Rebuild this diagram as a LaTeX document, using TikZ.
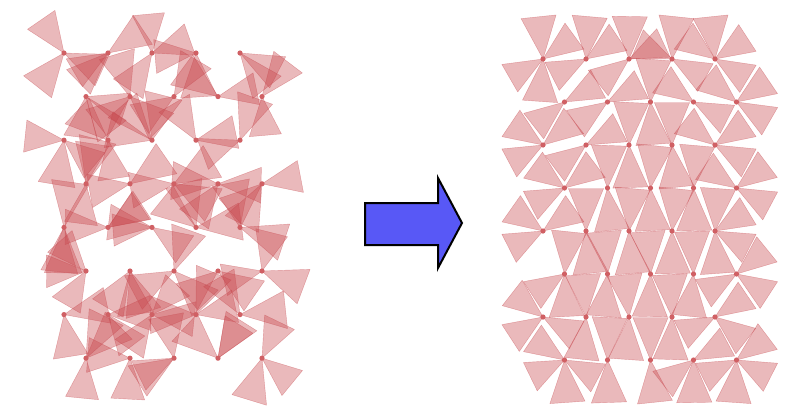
\documentclass[tikz,border=0pt]{standalone}
\definecolor{trired}{RGB}{200,72,78}
\definecolor{dotred}{RGB}{208,96,100}
\definecolor{arrowblue}{RGB}{88,88,246}
\tikzset{
  tri/.style={fill=trired, fill opacity=0.38, draw=trired, draw opacity=0.45, line width=0.4pt, line join=round},
  pt/.style={fill=dotred},
  bigarrow/.style={draw=black, line width=2pt, fill=arrowblue, line join=miter}
}
\begin{document}
\begin{tikzpicture}[x=1pt,y=-1pt]
\useasboundingbox (0,0) rectangle (788,408);
\fill[white] (0,0) rectangle (788,408);
% ---------- left: random orientations ----------
\pgfmathsetseed{4242}
\foreach \r in {0,...,7}{
  \foreach \c in {0,...,4}{
    \pgfmathsetmacro\px{64+44*\c+22*mod(\r,2)}
    \pgfmathsetmacro\py{53+43.6*\r}
    \foreach \k in {1,2,3}{
      \pgfmathsetmacro\aa{360*rnd}
      \pgfmathsetmacro\ss{42+8*rnd}
      \pgfmathtruncatemacro\keep{(\k<3 || rnd<0.65) ? 1 : 0}
      \pgfmathsetmacro\ab{\aa+45}
      \ifnum\keep=1
        \filldraw[tri] (\px,\py) -- +(\aa:\ss) -- +(\ab:\ss) -- cycle;
      \fi
    }
  }
}
\foreach \r in {0,...,7}{
  \foreach \c in {0,...,4}{
    \pgfmathsetmacro\px{64+44*\c+22*mod(\r,2)}
    \pgfmathsetmacro\py{53+43.6*\r}
    \fill[pt] (\px,\py) circle (2.6pt);
  }
}
% ---------- right: relaxed arrangement ----------
\foreach \r/\c/\a in {
0/0/94,0/0/264,0/0/150,0/0/324, 0/1/153,0/1/326,0/1/275, 0/2/142,0/2/335,0/2/271, 0/3/29,0/3/203,0/3/276, 0/4/31,0/4/216,0/4/264,0/4/327,
1/0/142,1/0/332, 1/1/146,1/1/333, 1/2/86,1/2/274, 1/3/27,1/3/215, 1/4/30,1/4/219,1/4/326,
2/0/152,2/0/322,2/0/214, 2/1/143,2/1/333, 2/2/88,2/2/273, 2/3/84,2/3/270, 2/4/28,2/4/218,2/4/326,
3/0/153,3/0/323,3/0/216, 3/1/84,3/1/272, 3/2/87,3/2/276, 3/3/89,3/3/275, 3/4/28,3/4/214,3/4/323,
4/0/153,4/0/325,4/0/215, 4/1/84,4/1/270, 4/2/85,4/2/275, 4/3/89,4/3/276, 4/4/86,4/4/274,4/4/27,4/4/329,
5/0/87,5/0/276,5/0/147, 5/1/95,5/1/265, 5/2/91,5/2/266, 5/3/96,5/3/268, 5/4/150,5/4/321,5/4/33,
6/0/28,6/0/218,6/0/147, 6/1/96,6/1/266, 6/2/94,6/2/264, 6/3/92,6/3/267, 6/4/153,6/4/326,6/4/38,
7/0/28,7/0/214,7/0/86,7/0/154, 7/1/88,7/1/273, 7/2/84,7/2/270, 7/3/142,7/3/332,7/3/89, 7/4/153,7/4/323,7/4/94,7/4/27}{
  \pgfmathsetmacro\px{543+43*\c+21.5*mod(\r,2)}
  \pgfmathsetmacro\py{59+43*\r}
  \pgfmathsetmacro\aa{\a-22.5}
  \pgfmathsetmacro\ab{\a+22.5}
  \pgfmathsetmacro\L{40+6*sin(\a)^2}
  \filldraw[tri] (\px,\py) -- +(\aa:\L) -- +(\ab:\L) -- cycle;
}
\foreach \r in {0,...,7}{
  \foreach \c in {0,...,4}{
    \pgfmathsetmacro\px{543+43*\c+21.5*mod(\r,2)}
    \pgfmathsetmacro\py{59+43*\r}
    \fill[pt] (\px,\py) circle (2.6pt);
  }
}
% ---------- arrow ----------
\draw[bigarrow] (365,203) -- (438,203) -- (438,178) -- (462,223) -- (438,268) -- (438,245) -- (365,245) -- cycle;
\end{tikzpicture}
\end{document}
